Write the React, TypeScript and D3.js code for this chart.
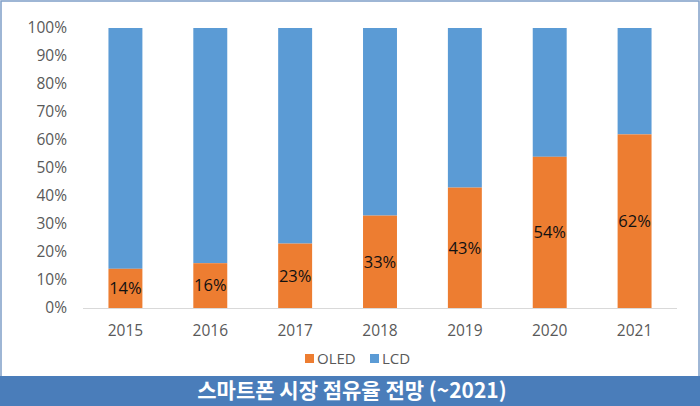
import React, { useEffect, useRef } from "react";
import * as d3 from "d3";

const years = ["2015", "2016", "2017", "2018", "2019", "2020", "2021"];
const oled = [14, 16, 23, 33, 43, 54, 62];
const yTicks = [0, 10, 20, 30, 40, 50, 60, 70, 80, 90, 100];
const title = "스마트폰 시장 점유율 전망 (~2021)";

export default function App() {
  const svgRef = useRef<SVGSVGElement | null>(null);

  useEffect(() => {
    if (!svgRef.current) return;
    const svg = d3.select(svgRef.current);
    svg.selectAll("*").remove();

    const W = 700, H = 406;
    const font = "'Open Sans', 'Noto Sans', sans-serif";

    svg.append("rect").attr("width", W).attr("height", H).attr("fill", "#fff");
    // frame
    svg.append("rect")
      .attr("x", 1).attr("y", 1).attr("width", W - 2).attr("height", H - 2)
      .attr("fill", "none").attr("stroke", "#7f9fc8").attr("stroke-width", 1.5);

    const x = d3.scaleBand().domain(years).range([83, 677]).paddingInner(0.6).paddingOuter(0.3);
    const y = d3.scaleLinear().domain([0, 100]).range([308, 28]);

    // y labels
    svg.append("g").selectAll("text").data(yTicks).join("text")
      .attr("x", 67).attr("y", (d) => y(d)).attr("dy", "0.35em")
      .attr("text-anchor", "end").attr("fill", "#595959")
      .attr("font-family", font).attr("font-size", 15.5)
      .text((d) => `${d}%`);

    const g = svg.append("g");
    // LCD (remainder)
    g.selectAll("rect.lcd").data(years).join("rect")
      .attr("class", "lcd")
      .attr("x", (d) => x(d)!).attr("width", x.bandwidth())
      .attr("y", y(100)).attr("height", (d, i) => y(oled[i]) - y(100))
      .attr("fill", "#5b9bd5");
    // OLED
    g.selectAll("rect.oled").data(years).join("rect")
      .attr("class", "oled")
      .attr("x", (d) => x(d)!).attr("width", x.bandwidth())
      .attr("y", (d, i) => y(oled[i])).attr("height", (d, i) => y(0) - y(oled[i]))
      .attr("fill", "#ed7d31");

    // axis line
    svg.append("line")
      .attr("x1", 83).attr("x2", 677).attr("y1", y(0) + 0.5).attr("y2", y(0) + 0.5)
      .attr("stroke", "#d9d9d9").attr("stroke-width", 1);

    // value labels
    g.selectAll("text.val").data(years).join("text")
      .attr("x", (d) => x(d)! + x.bandwidth() / 2)
      .attr("y", (d, i) => (y(0) + y(oled[i])) / 2)
      .attr("dy", "0.35em").attr("text-anchor", "middle")
      .attr("fill", "#111").attr("font-family", font).attr("font-size", 16.5)
      .text((d, i) => `${oled[i]}%`);

    // x labels
    svg.append("g").selectAll("text").data(years).join("text")
      .attr("x", (d) => x(d)! + x.bandwidth() / 2).attr("y", 331).attr("dy", "0.35em")
      .attr("text-anchor", "middle").attr("fill", "#595959")
      .attr("font-family", font).attr("font-size", 15.5)
      .text((d) => d);

    // legend
    const legend = [
      { label: "OLED", color: "#ed7d31", x: 305 },
      { label: "LCD", color: "#5b9bd5", x: 370 },
    ];
    const lg = svg.append("g").selectAll("g").data(legend).join("g")
      .attr("transform", (d) => `translate(${d.x},359)`);
    lg.append("rect").attr("x", 0).attr("y", -5).attr("width", 9).attr("height", 9).attr("fill", (d) => d.color);
    lg.append("text").attr("x", 12).attr("dy", "0.35em")
      .attr("fill", "#595959").attr("font-family", font).attr("font-size", 15)
      .text((d) => d.label);

    // title band
    svg.append("rect").attr("x", 0).attr("y", 376).attr("width", W).attr("height", 30).attr("fill", "#4a7dba");
    svg.append("text")
      .attr("x", W / 2 + 2).attr("y", 391).attr("dy", "0.35em").attr("text-anchor", "middle")
      .attr("fill", "#fff").attr("font-weight", "bold").attr("font-size", 21)
      .attr("font-family", "'Noto Sans CJK KR', sans-serif")
      .text(title);
  }, []);

  return (
    <div style={{ position: "absolute", left: 0, top: 0 }}>
      <svg ref={svgRef} width={700} height={406} style={{ display: "block" }} />
    </div>
  );
}
